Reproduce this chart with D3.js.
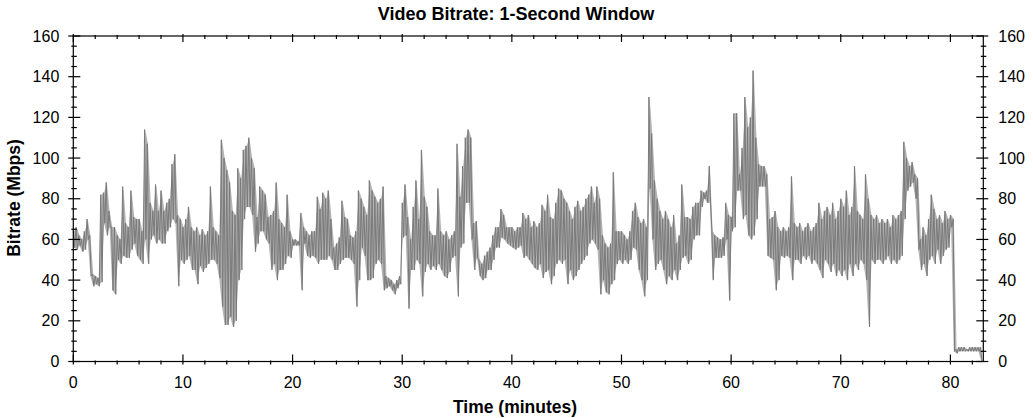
<!DOCTYPE html>
<html>
<head>
<meta charset="utf-8">
<script src="https://cdn.jsdelivr.net/npm/d3@7"></script>
<style>
  html, body { margin: 0; padding: 0; background: #ffffff; }
  svg { display: block; font-family: "Liberation Sans", Arial, sans-serif; }
</style>
</head>
<body>
<svg id="chart" width="1033" height="418"></svg>
<script>
// ---- Data ----
const chartTitle = "Video Bitrate: 1-Second Window";
const xTitle = "Time (minutes)";
const yTitle = "Bitrate (Mbps)";
const sampleStep = 0.25;   // minutes between envelope samples
// upper envelope per 0.25-minute bin (Mbps), one row per minute
const bitrateHigh = [
  64,66,62,60,  64,70,62,43,  42,41,82,83,  88,74,66,66,  62,60,86,68,
  66,84,71,70,  70,64,114,107, 78,74,87,74, 84,74,78,80,  97,102,72,70,
  66,70,76,66,  64,66,62,65,  62,64,86,66,  64,62,109,100, 94,88,74,72,
  95,90,104,106, 110,100,95,71, 86,84,82,71, 72,74,88,70, 68,66,82,64,
  60,60,59,73,  66,64,62,64,  64,81,75,83,  80,84,70,56,  58,61,79,71,
  70,62,61,64,  84,80,76,72,  89,84,81,78,  80,86,42,41,  40,38,40,42,
  78,87,71,60,  76,89,70,104, 81,76,64,62,  62,85,64,62,  64,60,62,64,
  107,81,96,110, 114,110,68,69, 50,48,52,54, 56,62,66,66, 75,72,66,66,
  66,64,66,66,  73,70,72,66,  69,66,68,77,  74,82,71,70,  78,85,84,80,
  78,74,70,76,  79,74,76,80,  82,86,78,86,  80,62,58,56,  58,93,64,64,
  64,62,60,64,  74,78,71,68,  70,66,130,112, 89,80,74,70, 74,70,66,72,
  58,62,87,71,  71,70,76,78,  78,84,83,84,  96,64,62,61,  60,61,78,72,
  71,122,122,92, 105,130,115,120, 143,110,97,96, 96,92,70,71, 74,66,64,66,
  64,66,91,68,  66,68,64,66,  68,64,66,68,  78,70,74,76,  72,78,70,74,
  80,76,84,72,  76,96,74,72,  70,92,80,72,  70,72,68,70,  68,70,66,72,
  70,72,74,108, 100,96,98,92, 90,60,66,62,  70,82,75,70,  72,68,74,70,
  72,70,6,7,    7,7,6,7,      7,7,7,7
];
// lower envelope per 0.25-minute bin (Mbps)
const bitrateLow = [
  56,55,57,54,  55,60,42,37,  38,37,39,68,  62,66,35,33,  50,48,52,51,
  51,55,58,52,  50,48,60,48,  60,62,58,60,  58,58,64,66,  70,68,37,50,
  48,50,52,45,  45,38,47,44,  46,48,50,50,  48,41,27,18,  18,22,17,20,
  40,45,70,76,  76,72,54,58,  64,64,60,58,  45,48,40,45,  45,48,52,51,
  57,57,57,35,  58,52,51,52,  51,48,50,50,  50,52,50,45,  45,48,50,51,
  51,50,48,27,  40,56,52,40,  40,41,48,50,  48,35,36,37,  35,33,36,38,
  61,62,26,45,  45,50,48,32,  44,48,45,47,  45,48,45,42,  41,44,51,52,
  32,56,58,78,  78,60,45,51,  42,40,41,45,  45,50,56,56,  61,60,58,57,
  56,55,56,57,  51,52,50,48,  46,45,48,41,  44,45,38,42,  48,50,48,50,
  38,45,40,42,  45,48,50,52,  58,60,58,55,  33,40,34,33,  38,40,48,50,
  48,50,48,50,  56,55,45,40,  32,40,85,60,  45,48,50,45,  38,42,40,45,
  40,45,51,52,  48,50,60,62,  62,76,80,78,  78,40,51,51,  51,52,60,30,
  64,66,84,84,  70,72,62,60,  62,70,86,86,  86,52,51,50,  35,40,52,51,
  52,51,40,50,  50,48,52,50,  52,48,50,48,  45,41,50,48,  44,48,42,45,
  42,45,40,48,  42,48,45,50,  48,40,17,50,  48,50,50,48,  50,52,48,50,
  48,50,52,70,  84,86,88,80,  55,45,48,42,  50,52,48,55,  48,52,55,56,
  66,5,4,5,     5,5,5,5,      5,5,5,0
];
const xTicks = [0, 10, 20, 30, 40, 50, 60, 70, 80];
const yTicks = [0, 20, 40, 60, 80, 100, 120, 140, 160];
const xDomain = [0, 83];
const yDomain = [0, 160];

// ---- Layout ----
const svg = d3.select("#chart");
const pL = 73.3, pR = 983.3, pT = 36, pB = 361.5;
const x = d3.scaleLinear().domain(xDomain).range([pL, pR]);
const y = d3.scaleLinear().domain(yDomain).range([pB, pT]);

// zig-zag trace between envelope samples
const pts = [];
bitrateHigh.forEach((h, i) => {
  pts.push([i * sampleStep, h]);
  pts.push([i * sampleStep + sampleStep / 2, bitrateLow[i]]);
});

// light band under the trace (the dense per-second samples)
const bandPts = bitrateHigh.map((h, i) => ({ t: i * sampleStep + sampleStep / 4, hi: h, lo: bitrateLow[i] }));
const area = d3.area().x(d => x(d.t)).y0(d => y(d.lo)).y1(d => y(d.hi));
svg.append("path")
  .datum(bandPts)
  .attr("d", area)
  .attr("fill", "#b4b4b4")
  .attr("stroke", "none");

const line = d3.line().x(d => x(d[0])).y(d => y(d[1]));
svg.append("path")
  .datum(pts)
  .attr("d", line)
  .attr("fill", "none")
  .attr("stroke", "#7a7a7a")
  .attr("stroke-width", 1);

// ---- Frame ----
svg.append("rect")
  .attr("x", pL).attr("y", pT)
  .attr("width", pR - pL).attr("height", pB - pT)
  .attr("fill", "none").attr("stroke", "#000").attr("stroke-width", 1.2);

const minorX = d3.range(0, 84, 2).filter(v => v % 10 !== 0);
const minorY = d3.range(0, 161, 5).filter(v => v % 20 !== 0);
const tk = svg.append("g").attr("stroke", "#000").attr("stroke-width", 1.2);

xTicks.forEach(v => {
  tk.append("line").attr("x1", x(v)).attr("x2", x(v)).attr("y1", pB - 7).attr("y2", pB + 3);
  tk.append("line").attr("x1", x(v)).attr("x2", x(v)).attr("y1", pT - 2).attr("y2", pT + 6);
});
minorX.forEach(v => {
  tk.append("line").attr("x1", x(v)).attr("x2", x(v)).attr("y1", pB - 1).attr("y2", pB + 3);
  tk.append("line").attr("x1", x(v)).attr("x2", x(v)).attr("y1", pT - 1).attr("y2", pT + 3);
});
yTicks.forEach(v => {
  tk.append("line").attr("x1", pL - 5).attr("x2", pL + 7).attr("y1", y(v)).attr("y2", y(v));
  tk.append("line").attr("x1", pR - 7).attr("x2", pR + 5).attr("y1", y(v)).attr("y2", y(v));
});
minorY.forEach(v => {
  tk.append("line").attr("x1", pL - 2).attr("x2", pL + 3.5).attr("y1", y(v)).attr("y2", y(v));
  tk.append("line").attr("x1", pR - 2.5).attr("x2", pR + 3).attr("y1", y(v)).attr("y2", y(v));
});

// ---- Labels ----
const lab = svg.append("g").attr("fill", "#000").attr("font-size", "16px");
xTicks.forEach(v => {
  lab.append("text").attr("x", x(v)).attr("y", 388).attr("text-anchor", "middle").text(v);
});
yTicks.forEach(v => {
  lab.append("text").attr("x", pL - 14).attr("y", y(v) + 5.5).attr("text-anchor", "end").text(v);
  lab.append("text").attr("x", pR + 15).attr("y", y(v) + 5.5).attr("text-anchor", "start").text(v);
});

svg.append("text").attr("x", 516).attr("y", 20).attr("text-anchor", "middle")
  .attr("font-size", "18px").attr("font-weight", "bold").text(chartTitle);
svg.append("text").attr("x", 515).attr("y", 413).attr("text-anchor", "middle")
  .attr("font-size", "17.5px").attr("font-weight", "bold").text(xTitle);
svg.append("text").attr("transform", "translate(20,198) rotate(-90)").attr("text-anchor", "middle")
  .attr("font-size", "17.5px").attr("font-weight", "bold").text(yTitle);
</script>
</body>
</html>
